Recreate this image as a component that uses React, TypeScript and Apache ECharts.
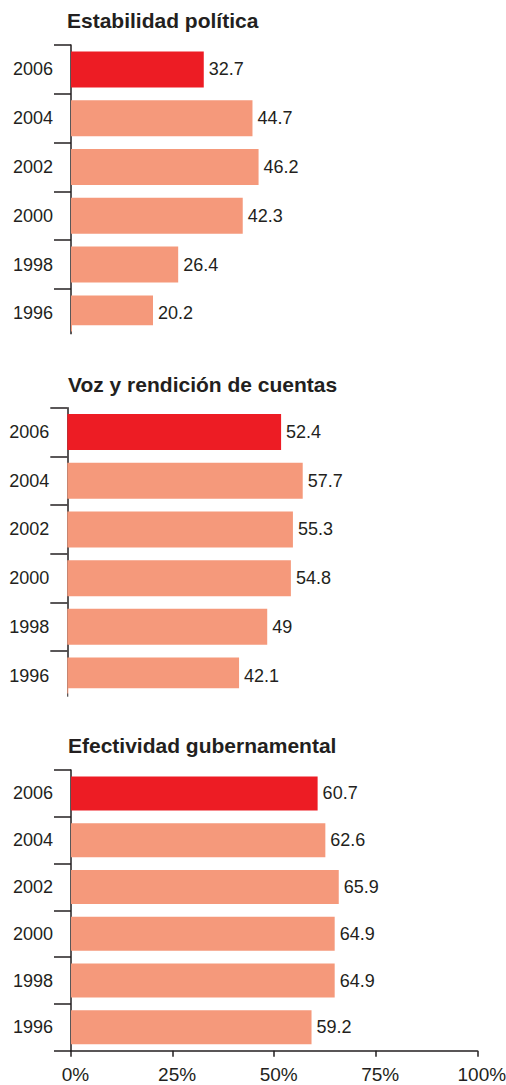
import React, { useEffect, useRef } from "react";
import * as echarts from "echarts";

const years = ["2006", "2004", "2002", "2000", "1998", "1996"];
const estabilidad = [32.7, 44.7, 46.2, 42.3, 26.4, 20.2];
const voz = [52.4, 57.7, 55.3, 54.8, 49, 42.1];
const efectividad = [60.7, 62.6, 65.9, 64.9, 64.9, 59.2];
const panelTitles = ["Estabilidad política", "Voz y rendición de cuentas", "Efectividad gubernamental"];
const xTickValues = [0, 25, 50, 75, 100];

const RED = "#ED1C24";
const SALMON = "#F5997B";
const INK = "#231F20";
const NARROW = "'Liberation Sans Narrow', 'Arial Narrow', 'Liberation Sans', Arial, sans-serif";
const SANS = "'Liberation Sans', Arial, Helvetica, sans-serif";

export default function App() {
  const ref = useRef<HTMLDivElement>(null);
  useEffect(() => {
    document.body.style.margin = "0";
    if (!ref.current) return;
    const chart = echarts.init(ref.current, null, { renderer: "svg" });
    const seriesData = [estabilidad, voz, efectividad];
    const grids = [
      { left: 71, top: 45, width: 406, height: 292.8 },
      { left: 67.3, top: 407.7, width: 408, height: 292.2 },
      { left: 71, top: 770, width: 406.3, height: 280.7 },
    ];
    const barWidths = [36, 36, 34];
    const titleTops = [10.3, 373.7, 735.3];
    const titleLefts = [67, 68, 68];
    const lineStyle = { color: INK, width: 1.5 };

    const option: any = {
      animation: false,
      backgroundColor: "#fff",
      title: panelTitles.map((t, i) => ({
        text: t,
        left: titleLefts[i],
        top: titleTops[i],
        padding: 0,
        textStyle: { fontSize: 21, fontWeight: "bold", fontFamily: SANS, color: INK, lineHeight: 21 },
      })),
      grid: grids.map((g) => ({ ...g, containLabel: false, outerBoundsMode: "none" })),
      xAxis: grids.map((_, i) => ({
        type: "value",
        gridIndex: i,
        min: 0,
        max: 100,
        interval: 25,
        show: i === 2,
        axisLine: { show: true, lineStyle },
        axisTick: { show: true, length: 6, lineStyle },
        axisLabel: {
          show: true,
          formatter: (v: number) => (xTickValues.includes(v) ? v + "%" : ""),
          margin: 14,
          padding: [0, 0, 0, 9],
          fontSize: 19,
          fontFamily: NARROW,
          color: INK,
        },
        splitLine: { show: false },
      })),
      yAxis: grids.map((_, i) => ({
        type: "category",
        gridIndex: i,
        data: years,
        inverse: true,
        axisLine: { show: true, lineStyle },
        axisTick: { show: true, length: 17, lineStyle },
        axisLabel: { margin: 18, fontSize: 18, fontFamily: NARROW, color: INK },
        splitLine: { show: false },
      })),
      series: seriesData.map((vals, i) => ({
        type: "bar",
        xAxisIndex: i,
        yAxisIndex: i,
        barWidth: barWidths[i],
        data: vals.map((v, j) => ({ value: v, itemStyle: { color: j === 0 ? RED : SALMON } })),
        label: {
          show: true,
          position: "right",
          distance: 5,
          fontSize: 18,
          fontFamily: NARROW,
          color: INK,
        },
      })),
      graphic: [
        { type: "rect", z: 100, shape: { x: 72, y: 325.3, width: 430, height: 14 }, style: { fill: "#fff" } },
        { type: "rect", z: 100, shape: { x: 40, y: 334.3, width: 33, height: 6 }, style: { fill: "#fff" } },
        { type: "rect", z: 100, shape: { x: 68.3, y: 688.3, width: 430, height: 13 }, style: { fill: "#fff" } },
        { type: "rect", z: 100, shape: { x: 40, y: 696.7, width: 29, height: 5 }, style: { fill: "#fff" } },
      ],
    };
    chart.setOption(option);
    return () => chart.dispose();
  }, []);
  return <div ref={ref} style={{ width: 506, height: 1085 }} />;
}
